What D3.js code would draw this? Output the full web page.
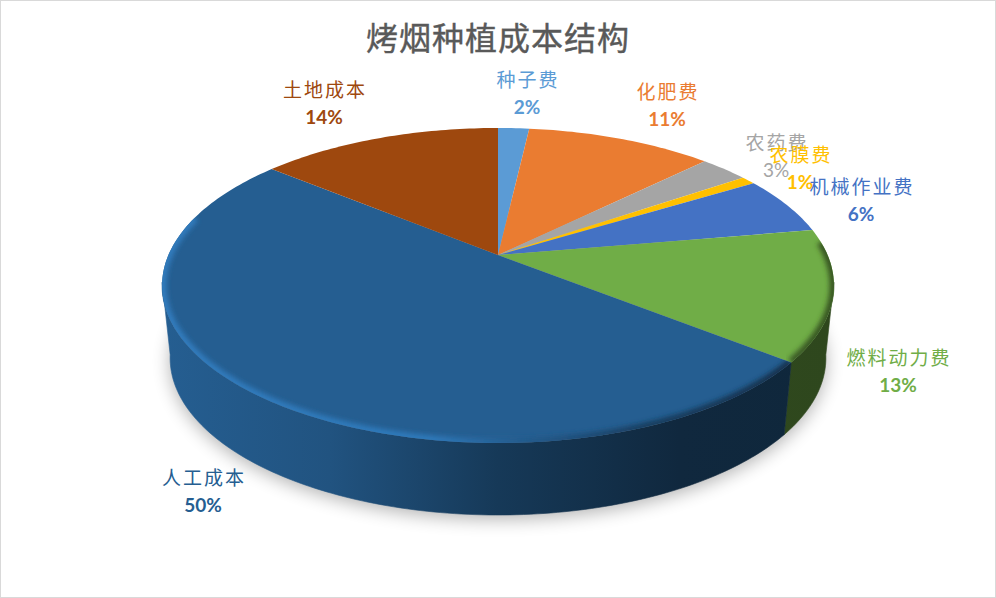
<!DOCTYPE html>
<html>
<head>
<meta charset="utf-8">
<script src="https://cdn.jsdelivr.net/npm/d3@7"></script>
<style>
  html, body { margin: 0; padding: 0; background: #fff; }
  svg { display: block; }
  text { font-family: "Noto Sans CJK SC", "Noto Sans", sans-serif; text-anchor: middle; }
  text.pct { font-family: Lato, "Noto Sans", sans-serif; }
</style>
</head>
<body>
<svg width="996" height="598"></svg>
<script>
const chartTitle = "烤烟种植成本结构";
const categories = ["种子费", "化肥费", "农药费", "农膜费", "机械作业费", "燃料动力费", "人工成本", "土地成本"];
const shares = [1.8, 10.8, 2.8, 0.85, 6.0, 13.4, 50.2, 14.0];
const colors = ["#5b9bd5", "#ea7c31", "#a5a5a5", "#ffc000", "#4472c4", "#70ad47", "#255e91", "#9e480e"];

// labels were dragged by hand in the original, so they just get placed
const labelAt = [[527, 80], [667, 92], [776, 143], [800, 155], [861, 187], [898, 358], [203, 478], [324, 90]];

const svg = d3.select("svg");
const deg = Math.PI / 180;
const k = 0.1935;  // perspective of the tilted disc

// angle on the pie -> point on the top face
function topPoint(a) {
    const u = Math.sin(a), v = Math.cos(a), w = 1 + k * v;
    return [498 + 329.6 * u / w, 255 - 151.6 * v / w];
}
// same angle on the lower edge of the wall
function bottomPoint(a) {
    const [x, y] = topPoint(a);
    return [498 + (x - 498) * 0.976, 358 + (y - 285.5) * 0.997];
}
function samples(a0, a1) {
    const n = Math.max(2, Math.ceil((a1 - a0) / deg));
    return d3.range(n + 1).map(i => a0 + (a1 - a0) * i / n);
}

const line = d3.line();
const slices = d3.pie().sort(null)(shares);
const defs = svg.append("defs");

defs.append("filter").attr("id", "soft").attr("x", "-10%").attr("y", "-10%").attr("width", "120%").attr("height", "120%")
    .append("feGaussianBlur").attr("stdDeviation", 9);
defs.append("filter").attr("id", "rimBlur").attr("x", "-10%").attr("y", "-10%").attr("width", "120%").attr("height", "120%")
    .append("feGaussianBlur").attr("stdDeviation", 2.6);

function grad(id, stops) {
    const g = defs.append("linearGradient").attr("id", id)
        .attr("gradientUnits", "userSpaceOnUse")
        .attr("x1", 162).attr("x2", 834).attr("y1", 0).attr("y2", 0);
    stops.forEach(s => g.append("stop").attr("offset", s[0]).attr("stop-color", s[1]));
}

slices.forEach((s, i) => {
    const c = d3.color(colors[i]);
    grad("side" + i, [[0, c], [0.25, c.darker(0.35)], [0.5, c.darker(1.4)], [0.77, c.darker(2.4)], [1, c.darker(2.5)]]);
    grad("rim" + i, [[0, c.brighter(0.75)], [0.4, c.brighter(0.7)], [0.52, c], [0.72, c.darker(1.2)], [1, c.darker(2)]]);
});

// frame
svg.append("rect").attr("x", 0.5).attr("y", 0.5).attr("width", 995).attr("height", 597)
    .attr("fill", "#fff").attr("stroke", "#d9d9d9");

// shadow under the disc
const all = samples(0, 2 * Math.PI);
svg.append("path")
    .attr("d", line(all.map(a => { const p = bottomPoint(a); return [p[0], p[1] + 4]; })) + "Z")
    .attr("fill", "#000").attr("opacity", 0.3).attr("filter", "url(#soft)");

// wall: only the front part of the rim can be seen
const wallFrom = 100 * deg, wallTo = 260 * deg;
const wall = svg.append("g");
slices.forEach((s, i) => {
    const a0 = Math.max(s.startAngle, wallFrom), a1 = Math.min(s.endAngle, wallTo);
    if (a1 <= a0) return;
    const as = samples(a0, a1);
    const pts = as.map(topPoint).concat(as.slice().reverse().map(bottomPoint));
    wall.append("path").attr("d", line(pts) + "Z")
        .attr("fill", `url(#side${i})`)
        .attr("stroke", `url(#side${i})`).attr("stroke-width", 0.6);
});

// top face
const face = svg.append("g");
slices.forEach((s, i) => {
    const pts = [[498, 255]].concat(samples(s.startAngle, s.endAngle).map(topPoint));
    const d = line(pts) + "Z";
    face.append("path").attr("d", d).attr("fill", colors[i]);

    // bevel along the outer edge of the front slices
    const a0 = Math.max(s.startAngle, 85 * deg), a1 = Math.min(s.endAngle, 285 * deg);
    if (a1 <= a0) return;
    defs.append("clipPath").attr("id", "clip" + i).append("path").attr("d", d);
    face.append("g").attr("clip-path", `url(#clip${i})`)
        .append("path").attr("d", line(samples(a0, a1).map(topPoint)))
        .attr("fill", "none").attr("stroke", `url(#rim${i})`)
        .attr("stroke-width", 9).attr("filter", "url(#rimBlur)");
});

// labels
categories.forEach((name, i) => {
    const [x, y] = labelAt[i];
    svg.append("text").attr("x", x + 1).attr("y", y + 7)
        .attr("fill", colors[i]).attr("font-size", 19).attr("letter-spacing", 2)
        .text(name);
    svg.append("text").attr("class", "pct").attr("x", x).attr("y", y + 34)
        .attr("fill", colors[i]).attr("font-size", 19).attr("font-weight", i === 2 ? 400 : 700)
        .text(d3.format(".0f")(shares[i]) + "%");
});

svg.append("text").attr("x", 498).attr("y", 50)
    .attr("fill", "#595959").attr("stroke", "#595959").attr("stroke-width", 0.4)
    .attr("font-size", 32).attr("letter-spacing", 1)
    .text(chartTitle);
</script>
</body>
</html>
